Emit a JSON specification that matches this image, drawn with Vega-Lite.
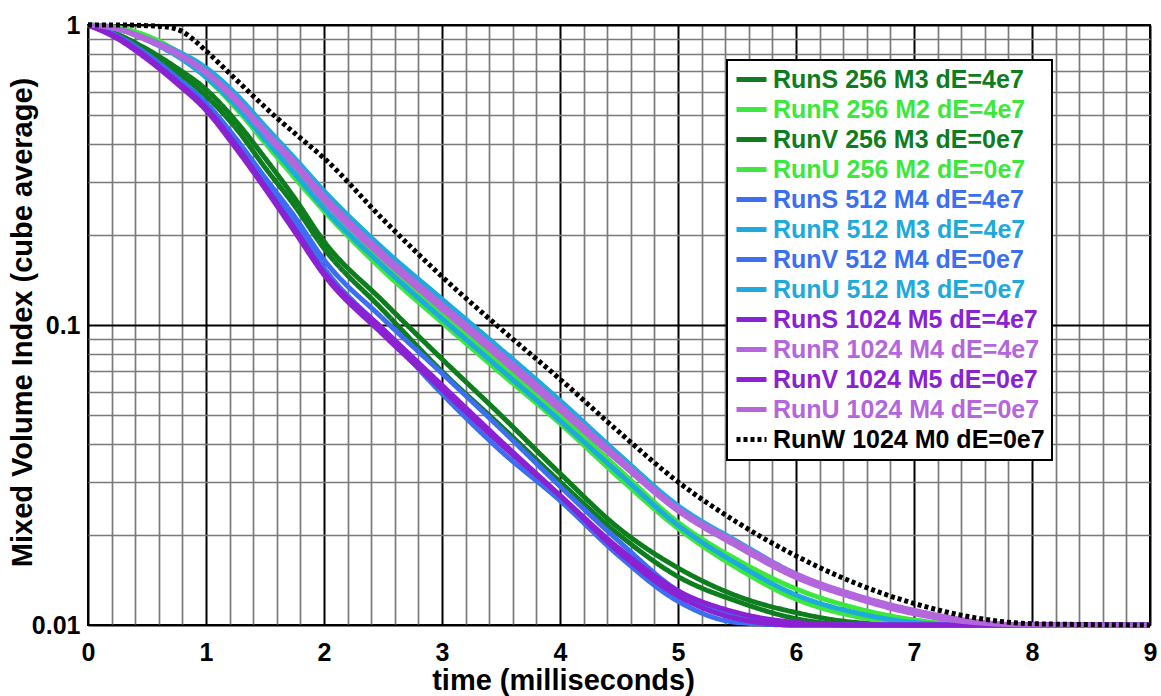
{
  "$schema": "https://vega.github.io/schema/vega-lite/v6.json",
  "width": 1062,
  "height": 600,
  "autosize": "none",
  "padding": {"left": 88, "top": 25, "right": 11, "bottom": 71},
  "config": {
    "font": "Liberation Sans",
    "view": {"stroke": "black", "strokeWidth": 2}
  },
  "datasets": {
    "curves": [
      {"run": "RunS 256 M3 dE=4e7", "t": 0, "v": 1}, {"run": "RunS 256 M3 dE=4e7", "t": 0.25, "v": 0.93}, {"run": "RunS 256 M3 dE=4e7", "t": 0.5, "v": 0.83}, {"run": "RunS 256 M3 dE=4e7", "t": 0.75, "v": 0.72}, {"run": "RunS 256 M3 dE=4e7", "t": 1, "v": 0.61}, {"run": "RunS 256 M3 dE=4e7", "t": 1.25, "v": 0.48}, {"run": "RunS 256 M3 dE=4e7", "t": 1.5, "v": 0.36}, {"run": "RunS 256 M3 dE=4e7", "t": 1.75, "v": 0.265}, {"run": "RunS 256 M3 dE=4e7", "t": 2, "v": 0.19}, {"run": "RunS 256 M3 dE=4e7", "t": 2.5, "v": 0.12}, {"run": "RunS 256 M3 dE=4e7", "t": 3, "v": 0.077}, {"run": "RunS 256 M3 dE=4e7", "t": 3.5, "v": 0.05}, {"run": "RunS 256 M3 dE=4e7", "t": 4, "v": 0.032}, {"run": "RunS 256 M3 dE=4e7", "t": 4.5, "v": 0.021}, {"run": "RunS 256 M3 dE=4e7", "t": 5, "v": 0.0155}, {"run": "RunS 256 M3 dE=4e7", "t": 5.5, "v": 0.0125}, {"run": "RunS 256 M3 dE=4e7", "t": 6, "v": 0.011}, {"run": "RunS 256 M3 dE=4e7", "t": 6.5, "v": 0.0102}, {"run": "RunS 256 M3 dE=4e7", "t": 7, "v": 0.01}, {"run": "RunS 256 M3 dE=4e7", "t": 9, "v": 0.01},
      {"run": "RunR 256 M2 dE=4e7", "t": 0, "v": 1}, {"run": "RunR 256 M2 dE=4e7", "t": 0.25, "v": 0.98}, {"run": "RunR 256 M2 dE=4e7", "t": 0.5, "v": 0.92}, {"run": "RunR 256 M2 dE=4e7", "t": 0.75, "v": 0.82}, {"run": "RunR 256 M2 dE=4e7", "t": 1, "v": 0.7}, {"run": "RunR 256 M2 dE=4e7", "t": 1.25, "v": 0.56}, {"run": "RunR 256 M2 dE=4e7", "t": 1.5, "v": 0.43}, {"run": "RunR 256 M2 dE=4e7", "t": 1.75, "v": 0.33}, {"run": "RunR 256 M2 dE=4e7", "t": 2, "v": 0.255}, {"run": "RunR 256 M2 dE=4e7", "t": 2.5, "v": 0.163}, {"run": "RunR 256 M2 dE=4e7", "t": 3, "v": 0.11}, {"run": "RunR 256 M2 dE=4e7", "t": 3.5, "v": 0.074}, {"run": "RunR 256 M2 dE=4e7", "t": 4, "v": 0.05}, {"run": "RunR 256 M2 dE=4e7", "t": 4.5, "v": 0.033}, {"run": "RunR 256 M2 dE=4e7", "t": 5, "v": 0.022}, {"run": "RunR 256 M2 dE=4e7", "t": 5.5, "v": 0.0165}, {"run": "RunR 256 M2 dE=4e7", "t": 6, "v": 0.0132}, {"run": "RunR 256 M2 dE=4e7", "t": 6.5, "v": 0.0114}, {"run": "RunR 256 M2 dE=4e7", "t": 7, "v": 0.0104}, {"run": "RunR 256 M2 dE=4e7", "t": 7.5, "v": 0.01}, {"run": "RunR 256 M2 dE=4e7", "t": 9, "v": 0.01},
      {"run": "RunV 256 M3 dE=0e7", "t": 0, "v": 1}, {"run": "RunV 256 M3 dE=0e7", "t": 0.25, "v": 0.93}, {"run": "RunV 256 M3 dE=0e7", "t": 0.5, "v": 0.82}, {"run": "RunV 256 M3 dE=0e7", "t": 0.75, "v": 0.7}, {"run": "RunV 256 M3 dE=0e7", "t": 1, "v": 0.58}, {"run": "RunV 256 M3 dE=0e7", "t": 1.25, "v": 0.455}, {"run": "RunV 256 M3 dE=0e7", "t": 1.5, "v": 0.335}, {"run": "RunV 256 M3 dE=0e7", "t": 1.75, "v": 0.25}, {"run": "RunV 256 M3 dE=0e7", "t": 2, "v": 0.18}, {"run": "RunV 256 M3 dE=0e7", "t": 2.5, "v": 0.112}, {"run": "RunV 256 M3 dE=0e7", "t": 3, "v": 0.07}, {"run": "RunV 256 M3 dE=0e7", "t": 3.5, "v": 0.046}, {"run": "RunV 256 M3 dE=0e7", "t": 4, "v": 0.03}, {"run": "RunV 256 M3 dE=0e7", "t": 4.5, "v": 0.02}, {"run": "RunV 256 M3 dE=0e7", "t": 5, "v": 0.0145}, {"run": "RunV 256 M3 dE=0e7", "t": 5.5, "v": 0.012}, {"run": "RunV 256 M3 dE=0e7", "t": 6, "v": 0.0105}, {"run": "RunV 256 M3 dE=0e7", "t": 6.5, "v": 0.01}, {"run": "RunV 256 M3 dE=0e7", "t": 9, "v": 0.01},
      {"run": "RunU 256 M2 dE=0e7", "t": 0, "v": 1}, {"run": "RunU 256 M2 dE=0e7", "t": 0.25, "v": 0.98}, {"run": "RunU 256 M2 dE=0e7", "t": 0.5, "v": 0.91}, {"run": "RunU 256 M2 dE=0e7", "t": 0.75, "v": 0.8}, {"run": "RunU 256 M2 dE=0e7", "t": 1, "v": 0.67}, {"run": "RunU 256 M2 dE=0e7", "t": 1.25, "v": 0.53}, {"run": "RunU 256 M2 dE=0e7", "t": 1.5, "v": 0.405}, {"run": "RunU 256 M2 dE=0e7", "t": 1.75, "v": 0.31}, {"run": "RunU 256 M2 dE=0e7", "t": 2, "v": 0.24}, {"run": "RunU 256 M2 dE=0e7", "t": 2.5, "v": 0.152}, {"run": "RunU 256 M2 dE=0e7", "t": 3, "v": 0.102}, {"run": "RunU 256 M2 dE=0e7", "t": 3.5, "v": 0.069}, {"run": "RunU 256 M2 dE=0e7", "t": 4, "v": 0.047}, {"run": "RunU 256 M2 dE=0e7", "t": 4.5, "v": 0.031}, {"run": "RunU 256 M2 dE=0e7", "t": 5, "v": 0.021}, {"run": "RunU 256 M2 dE=0e7", "t": 5.5, "v": 0.0155}, {"run": "RunU 256 M2 dE=0e7", "t": 6, "v": 0.0122}, {"run": "RunU 256 M2 dE=0e7", "t": 6.5, "v": 0.0107}, {"run": "RunU 256 M2 dE=0e7", "t": 7, "v": 0.0101}, {"run": "RunU 256 M2 dE=0e7", "t": 7.5, "v": 0.01}, {"run": "RunU 256 M2 dE=0e7", "t": 9, "v": 0.01},
      {"run": "RunS 512 M4 dE=4e7", "t": 0, "v": 1}, {"run": "RunS 512 M4 dE=4e7", "t": 0.25, "v": 0.92}, {"run": "RunS 512 M4 dE=4e7", "t": 0.5, "v": 0.8}, {"run": "RunS 512 M4 dE=4e7", "t": 0.75, "v": 0.67}, {"run": "RunS 512 M4 dE=4e7", "t": 1, "v": 0.55}, {"run": "RunS 512 M4 dE=4e7", "t": 1.25, "v": 0.42}, {"run": "RunS 512 M4 dE=4e7", "t": 1.5, "v": 0.31}, {"run": "RunS 512 M4 dE=4e7", "t": 1.75, "v": 0.23}, {"run": "RunS 512 M4 dE=4e7", "t": 2, "v": 0.165}, {"run": "RunS 512 M4 dE=4e7", "t": 2.5, "v": 0.105}, {"run": "RunS 512 M4 dE=4e7", "t": 3, "v": 0.069}, {"run": "RunS 512 M4 dE=4e7", "t": 3.5, "v": 0.045}, {"run": "RunS 512 M4 dE=4e7", "t": 4, "v": 0.029}, {"run": "RunS 512 M4 dE=4e7", "t": 4.5, "v": 0.019}, {"run": "RunS 512 M4 dE=4e7", "t": 5, "v": 0.013}, {"run": "RunS 512 M4 dE=4e7", "t": 5.5, "v": 0.0107}, {"run": "RunS 512 M4 dE=4e7", "t": 6, "v": 0.01}, {"run": "RunS 512 M4 dE=4e7", "t": 9, "v": 0.01},
      {"run": "RunR 512 M3 dE=4e7", "t": 0, "v": 1}, {"run": "RunR 512 M3 dE=4e7", "t": 0.25, "v": 0.97}, {"run": "RunR 512 M3 dE=4e7", "t": 0.5, "v": 0.9}, {"run": "RunR 512 M3 dE=4e7", "t": 0.75, "v": 0.82}, {"run": "RunR 512 M3 dE=4e7", "t": 1, "v": 0.72}, {"run": "RunR 512 M3 dE=4e7", "t": 1.25, "v": 0.59}, {"run": "RunR 512 M3 dE=4e7", "t": 1.5, "v": 0.46}, {"run": "RunR 512 M3 dE=4e7", "t": 1.75, "v": 0.36}, {"run": "RunR 512 M3 dE=4e7", "t": 2, "v": 0.28}, {"run": "RunR 512 M3 dE=4e7", "t": 2.5, "v": 0.18}, {"run": "RunR 512 M3 dE=4e7", "t": 3, "v": 0.122}, {"run": "RunR 512 M3 dE=4e7", "t": 3.5, "v": 0.083}, {"run": "RunR 512 M3 dE=4e7", "t": 4, "v": 0.056}, {"run": "RunR 512 M3 dE=4e7", "t": 4.5, "v": 0.037}, {"run": "RunR 512 M3 dE=4e7", "t": 5, "v": 0.025}, {"run": "RunR 512 M3 dE=4e7", "t": 5.5, "v": 0.019}, {"run": "RunR 512 M3 dE=4e7", "t": 6, "v": 0.0148}, {"run": "RunR 512 M3 dE=4e7", "t": 6.5, "v": 0.0125}, {"run": "RunR 512 M3 dE=4e7", "t": 7, "v": 0.011}, {"run": "RunR 512 M3 dE=4e7", "t": 7.5, "v": 0.0102}, {"run": "RunR 512 M3 dE=4e7", "t": 8, "v": 0.01}, {"run": "RunR 512 M3 dE=4e7", "t": 9, "v": 0.01},
      {"run": "RunV 512 M4 dE=0e7", "t": 0, "v": 1}, {"run": "RunV 512 M4 dE=0e7", "t": 0.25, "v": 0.91}, {"run": "RunV 512 M4 dE=0e7", "t": 0.5, "v": 0.79}, {"run": "RunV 512 M4 dE=0e7", "t": 0.75, "v": 0.66}, {"run": "RunV 512 M4 dE=0e7", "t": 1, "v": 0.54}, {"run": "RunV 512 M4 dE=0e7", "t": 1.25, "v": 0.41}, {"run": "RunV 512 M4 dE=0e7", "t": 1.5, "v": 0.3}, {"run": "RunV 512 M4 dE=0e7", "t": 1.75, "v": 0.22}, {"run": "RunV 512 M4 dE=0e7", "t": 2, "v": 0.155}, {"run": "RunV 512 M4 dE=0e7", "t": 2.5, "v": 0.096}, {"run": "RunV 512 M4 dE=0e7", "t": 3, "v": 0.059}, {"run": "RunV 512 M4 dE=0e7", "t": 3.5, "v": 0.038}, {"run": "RunV 512 M4 dE=0e7", "t": 4, "v": 0.026}, {"run": "RunV 512 M4 dE=0e7", "t": 4.5, "v": 0.017}, {"run": "RunV 512 M4 dE=0e7", "t": 5, "v": 0.012}, {"run": "RunV 512 M4 dE=0e7", "t": 5.5, "v": 0.0102}, {"run": "RunV 512 M4 dE=0e7", "t": 6, "v": 0.01}, {"run": "RunV 512 M4 dE=0e7", "t": 9, "v": 0.01},
      {"run": "RunU 512 M3 dE=0e7", "t": 0, "v": 1}, {"run": "RunU 512 M3 dE=0e7", "t": 0.25, "v": 0.97}, {"run": "RunU 512 M3 dE=0e7", "t": 0.5, "v": 0.89}, {"run": "RunU 512 M3 dE=0e7", "t": 0.75, "v": 0.79}, {"run": "RunU 512 M3 dE=0e7", "t": 1, "v": 0.67}, {"run": "RunU 512 M3 dE=0e7", "t": 1.25, "v": 0.54}, {"run": "RunU 512 M3 dE=0e7", "t": 1.5, "v": 0.415}, {"run": "RunU 512 M3 dE=0e7", "t": 1.75, "v": 0.32}, {"run": "RunU 512 M3 dE=0e7", "t": 2, "v": 0.245}, {"run": "RunU 512 M3 dE=0e7", "t": 2.5, "v": 0.157}, {"run": "RunU 512 M3 dE=0e7", "t": 3, "v": 0.105}, {"run": "RunU 512 M3 dE=0e7", "t": 3.5, "v": 0.071}, {"run": "RunU 512 M3 dE=0e7", "t": 4, "v": 0.048}, {"run": "RunU 512 M3 dE=0e7", "t": 4.5, "v": 0.032}, {"run": "RunU 512 M3 dE=0e7", "t": 5, "v": 0.0215}, {"run": "RunU 512 M3 dE=0e7", "t": 5.5, "v": 0.016}, {"run": "RunU 512 M3 dE=0e7", "t": 6, "v": 0.0126}, {"run": "RunU 512 M3 dE=0e7", "t": 6.5, "v": 0.011}, {"run": "RunU 512 M3 dE=0e7", "t": 7, "v": 0.0102}, {"run": "RunU 512 M3 dE=0e7", "t": 7.5, "v": 0.01}, {"run": "RunU 512 M3 dE=0e7", "t": 9, "v": 0.01},
      {"run": "RunS 1024 M5 dE=4e7", "t": 0, "v": 1}, {"run": "RunS 1024 M5 dE=4e7", "t": 0.25, "v": 0.91}, {"run": "RunS 1024 M5 dE=4e7", "t": 0.5, "v": 0.78}, {"run": "RunS 1024 M5 dE=4e7", "t": 0.75, "v": 0.65}, {"run": "RunS 1024 M5 dE=4e7", "t": 1, "v": 0.53}, {"run": "RunS 1024 M5 dE=4e7", "t": 1.25, "v": 0.4}, {"run": "RunS 1024 M5 dE=4e7", "t": 1.5, "v": 0.29}, {"run": "RunS 1024 M5 dE=4e7", "t": 1.75, "v": 0.21}, {"run": "RunS 1024 M5 dE=4e7", "t": 2, "v": 0.15}, {"run": "RunS 1024 M5 dE=4e7", "t": 2.5, "v": 0.097}, {"run": "RunS 1024 M5 dE=4e7", "t": 3, "v": 0.063}, {"run": "RunS 1024 M5 dE=4e7", "t": 3.5, "v": 0.041}, {"run": "RunS 1024 M5 dE=4e7", "t": 4, "v": 0.027}, {"run": "RunS 1024 M5 dE=4e7", "t": 4.5, "v": 0.0175}, {"run": "RunS 1024 M5 dE=4e7", "t": 5, "v": 0.0125}, {"run": "RunS 1024 M5 dE=4e7", "t": 5.5, "v": 0.0105}, {"run": "RunS 1024 M5 dE=4e7", "t": 6, "v": 0.01}, {"run": "RunS 1024 M5 dE=4e7", "t": 9, "v": 0.01},
      {"run": "RunR 1024 M4 dE=4e7", "t": 0, "v": 1}, {"run": "RunR 1024 M4 dE=4e7", "t": 0.25, "v": 0.97}, {"run": "RunR 1024 M4 dE=4e7", "t": 0.5, "v": 0.9}, {"run": "RunR 1024 M4 dE=4e7", "t": 0.75, "v": 0.81}, {"run": "RunR 1024 M4 dE=4e7", "t": 1, "v": 0.7}, {"run": "RunR 1024 M4 dE=4e7", "t": 1.25, "v": 0.57}, {"run": "RunR 1024 M4 dE=4e7", "t": 1.5, "v": 0.445}, {"run": "RunR 1024 M4 dE=4e7", "t": 1.75, "v": 0.35}, {"run": "RunR 1024 M4 dE=4e7", "t": 2, "v": 0.27}, {"run": "RunR 1024 M4 dE=4e7", "t": 2.5, "v": 0.173}, {"run": "RunR 1024 M4 dE=4e7", "t": 3, "v": 0.117}, {"run": "RunR 1024 M4 dE=4e7", "t": 3.5, "v": 0.08}, {"run": "RunR 1024 M4 dE=4e7", "t": 4, "v": 0.054}, {"run": "RunR 1024 M4 dE=4e7", "t": 4.5, "v": 0.036}, {"run": "RunR 1024 M4 dE=4e7", "t": 5, "v": 0.0245}, {"run": "RunR 1024 M4 dE=4e7", "t": 5.5, "v": 0.0188}, {"run": "RunR 1024 M4 dE=4e7", "t": 6, "v": 0.0148}, {"run": "RunR 1024 M4 dE=4e7", "t": 6.5, "v": 0.0126}, {"run": "RunR 1024 M4 dE=4e7", "t": 7, "v": 0.0112}, {"run": "RunR 1024 M4 dE=4e7", "t": 7.5, "v": 0.0103}, {"run": "RunR 1024 M4 dE=4e7", "t": 8, "v": 0.01}, {"run": "RunR 1024 M4 dE=4e7", "t": 9, "v": 0.01},
      {"run": "RunV 1024 M5 dE=0e7", "t": 0, "v": 1}, {"run": "RunV 1024 M5 dE=0e7", "t": 0.25, "v": 0.9}, {"run": "RunV 1024 M5 dE=0e7", "t": 0.5, "v": 0.77}, {"run": "RunV 1024 M5 dE=0e7", "t": 0.75, "v": 0.64}, {"run": "RunV 1024 M5 dE=0e7", "t": 1, "v": 0.52}, {"run": "RunV 1024 M5 dE=0e7", "t": 1.25, "v": 0.39}, {"run": "RunV 1024 M5 dE=0e7", "t": 1.5, "v": 0.285}, {"run": "RunV 1024 M5 dE=0e7", "t": 1.75, "v": 0.205}, {"run": "RunV 1024 M5 dE=0e7", "t": 2, "v": 0.147}, {"run": "RunV 1024 M5 dE=0e7", "t": 2.5, "v": 0.093}, {"run": "RunV 1024 M5 dE=0e7", "t": 3, "v": 0.061}, {"run": "RunV 1024 M5 dE=0e7", "t": 3.5, "v": 0.04}, {"run": "RunV 1024 M5 dE=0e7", "t": 4, "v": 0.027}, {"run": "RunV 1024 M5 dE=0e7", "t": 4.5, "v": 0.018}, {"run": "RunV 1024 M5 dE=0e7", "t": 5, "v": 0.013}, {"run": "RunV 1024 M5 dE=0e7", "t": 5.5, "v": 0.011}, {"run": "RunV 1024 M5 dE=0e7", "t": 6, "v": 0.0102}, {"run": "RunV 1024 M5 dE=0e7", "t": 6.5, "v": 0.01}, {"run": "RunV 1024 M5 dE=0e7", "t": 9, "v": 0.01},
      {"run": "RunU 1024 M4 dE=0e7", "t": 0, "v": 1}, {"run": "RunU 1024 M4 dE=0e7", "t": 0.25, "v": 0.97}, {"run": "RunU 1024 M4 dE=0e7", "t": 0.5, "v": 0.89}, {"run": "RunU 1024 M4 dE=0e7", "t": 0.75, "v": 0.8}, {"run": "RunU 1024 M4 dE=0e7", "t": 1, "v": 0.69}, {"run": "RunU 1024 M4 dE=0e7", "t": 1.25, "v": 0.56}, {"run": "RunU 1024 M4 dE=0e7", "t": 1.5, "v": 0.435}, {"run": "RunU 1024 M4 dE=0e7", "t": 1.75, "v": 0.34}, {"run": "RunU 1024 M4 dE=0e7", "t": 2, "v": 0.26}, {"run": "RunU 1024 M4 dE=0e7", "t": 2.5, "v": 0.167}, {"run": "RunU 1024 M4 dE=0e7", "t": 3, "v": 0.113}, {"run": "RunU 1024 M4 dE=0e7", "t": 3.5, "v": 0.077}, {"run": "RunU 1024 M4 dE=0e7", "t": 4, "v": 0.052}, {"run": "RunU 1024 M4 dE=0e7", "t": 4.5, "v": 0.035}, {"run": "RunU 1024 M4 dE=0e7", "t": 5, "v": 0.024}, {"run": "RunU 1024 M4 dE=0e7", "t": 5.5, "v": 0.0183}, {"run": "RunU 1024 M4 dE=0e7", "t": 6, "v": 0.0144}, {"run": "RunU 1024 M4 dE=0e7", "t": 6.5, "v": 0.0123}, {"run": "RunU 1024 M4 dE=0e7", "t": 7, "v": 0.0109}, {"run": "RunU 1024 M4 dE=0e7", "t": 7.5, "v": 0.0102}, {"run": "RunU 1024 M4 dE=0e7", "t": 8, "v": 0.01}, {"run": "RunU 1024 M4 dE=0e7", "t": 9, "v": 0.01},
      {"run": "RunW 1024 M0 dE=0e7", "t": 0, "v": 1}, {"run": "RunW 1024 M0 dE=0e7", "t": 0.25, "v": 1}, {"run": "RunW 1024 M0 dE=0e7", "t": 0.5, "v": 0.995}, {"run": "RunW 1024 M0 dE=0e7", "t": 0.7, "v": 0.98}, {"run": "RunW 1024 M0 dE=0e7", "t": 0.8, "v": 0.95}, {"run": "RunW 1024 M0 dE=0e7", "t": 0.9, "v": 0.89}, {"run": "RunW 1024 M0 dE=0e7", "t": 1, "v": 0.82}, {"run": "RunW 1024 M0 dE=0e7", "t": 1.2, "v": 0.69}, {"run": "RunW 1024 M0 dE=0e7", "t": 1.4, "v": 0.58}, {"run": "RunW 1024 M0 dE=0e7", "t": 1.6, "v": 0.49}, {"run": "RunW 1024 M0 dE=0e7", "t": 1.8, "v": 0.42}, {"run": "RunW 1024 M0 dE=0e7", "t": 2, "v": 0.36}, {"run": "RunW 1024 M0 dE=0e7", "t": 2.5, "v": 0.225}, {"run": "RunW 1024 M0 dE=0e7", "t": 3, "v": 0.145}, {"run": "RunW 1024 M0 dE=0e7", "t": 3.5, "v": 0.097}, {"run": "RunW 1024 M0 dE=0e7", "t": 4, "v": 0.066}, {"run": "RunW 1024 M0 dE=0e7", "t": 4.5, "v": 0.044}, {"run": "RunW 1024 M0 dE=0e7", "t": 5, "v": 0.03}, {"run": "RunW 1024 M0 dE=0e7", "t": 5.5, "v": 0.022}, {"run": "RunW 1024 M0 dE=0e7", "t": 6, "v": 0.017}, {"run": "RunW 1024 M0 dE=0e7", "t": 6.5, "v": 0.0138}, {"run": "RunW 1024 M0 dE=0e7", "t": 7, "v": 0.0118}, {"run": "RunW 1024 M0 dE=0e7", "t": 7.5, "v": 0.0106}, {"run": "RunW 1024 M0 dE=0e7", "t": 8, "v": 0.0101}, {"run": "RunW 1024 M0 dE=0e7", "t": 9, "v": 0.01}
    ]
  },
  "data": {"name": "curves"},
  "mark": {"type": "line", "interpolate": "monotone", "clip": false},
  "encoding": {
    "x": {
      "field": "t", "type": "quantitative",
      "scale": {"domain": [0, 9], "nice": false, "zero": false},
      "axis": {
        "title": "time  (milliseconds)",
        "values": [0,0.2,0.4,0.6,0.8,1,1.2,1.4,1.6,1.8,2,2.2,2.4,2.6,2.8,3,3.2,3.4,3.6,3.8,4,4.2,4.4,4.6,4.8,5,5.2,5.4,5.6,5.8,6,6.2,6.4,6.6,6.8,7,7.2,7.4,7.6,7.8,8,8.2,8.4,8.6,8.8,9],
        "labelExpr": "abs(datum.value - round(datum.value)) < 1e-6 ? format(datum.value, 'd') : ''",
        "grid": true,
        "gridColor": {"condition": {"test": "abs(datum.value - round(datum.value)) < 1e-6", "value": "#000000"}, "value": "#7a7a7a"},
        "gridWidth": {"condition": {"test": "abs(datum.value - round(datum.value)) < 1e-6", "value": 2}, "value": 1.7},
        "gridOpacity": 1,
        "ticks": false,
        "domain": false,
        "labelFontSize": 25, "labelFontWeight": "bold", "labelColor": "black",
        "labelPadding": 15, "labelFlush": false, "labelOverlap": false, "labelBound": false,
        "titleFontSize": 29, "titleFontWeight": "bold", "titleColor": "black",
        "titleX": 475, "titleY": 64, "titleAnchor": "middle", "titleAlign": "center", "titleBaseline": "alphabetic"
      }
    },
    "y": {
      "field": "v", "type": "quantitative",
      "scale": {"type": "log", "domain": [0.01, 1], "nice": false},
      "axis": {
        "title": "Mixed Volume Index  (cube average)",
        "values": [0.01,0.02,0.03,0.04,0.05,0.06,0.07,0.08,0.09,0.1,0.2,0.3,0.4,0.5,0.6,0.7,0.8,0.9,1],
        "labelExpr": "abs(log(datum.value)/LN10 - round(log(datum.value)/LN10)) < 1e-6 ? format(datum.value, '~g') : ''",
        "grid": true,
        "gridColor": {"condition": {"test": "abs(log(datum.value)/LN10 - round(log(datum.value)/LN10)) < 1e-6", "value": "#000000"}, "value": "#7a7a7a"},
        "gridWidth": {"condition": {"test": "abs(log(datum.value)/LN10 - round(log(datum.value)/LN10)) < 1e-6", "value": 2}, "value": 1.7},
        "gridOpacity": 1,
        "ticks": false,
        "domain": false,
        "labelFontSize": 25, "labelFontWeight": "bold", "labelColor": "black",
        "labelPadding": 8, "labelFlush": false, "labelOverlap": false, "labelBound": false,
        "titleFontSize": 29, "titleFontWeight": "bold", "titleColor": "black",
        "titleAngle": 270, "titleX": -57, "titleY": 297, "titleAlign": "center", "titleBaseline": "alphabetic"
      }
    },
    "color": {
      "field": "run", "type": "nominal",
      "scale": {
        "domain": ["RunS 256 M3 dE=4e7","RunR 256 M2 dE=4e7","RunV 256 M3 dE=0e7","RunU 256 M2 dE=0e7","RunS 512 M4 dE=4e7","RunR 512 M3 dE=4e7","RunV 512 M4 dE=0e7","RunU 512 M3 dE=0e7","RunS 1024 M5 dE=4e7","RunR 1024 M4 dE=4e7","RunV 1024 M5 dE=0e7","RunU 1024 M4 dE=0e7","RunW 1024 M0 dE=0e7"],
        "range": ["#0e7d1e","#3de83d","#0e7d1e","#3de83d","#3b6ef0","#1eaadc","#3b6ef0","#1eaadc","#8a22d4","#b466dd","#8a22d4","#b466dd","#000000"]
      },
      "legend": {
        "title": null,
        "orient": "none", "legendX": 639, "legendY": 35,
        "symbolType": "stroke", "symbolSize": 900, "clipHeight": 25,
        "labelFontSize": 25, "labelFontWeight": "bold", "labelLimit": 400, "labelOffset": 4,
        "rowPadding": 4, "padding": 7,
        "strokeColor": "black", "fillColor": "white",
        "encode": {
          "legend": {"update": {"strokeWidth": {"value": 2}}},
          "labels": {"update": {"fill": {"scale": "color", "field": "value"}}}
        }
      }
    },
    "strokeWidth": {
      "field": "run", "type": "nominal",
      "scale": {
        "domain": ["RunS 256 M3 dE=4e7","RunR 256 M2 dE=4e7","RunV 256 M3 dE=0e7","RunU 256 M2 dE=0e7","RunS 512 M4 dE=4e7","RunR 512 M3 dE=4e7","RunV 512 M4 dE=0e7","RunU 512 M3 dE=0e7","RunS 1024 M5 dE=4e7","RunR 1024 M4 dE=4e7","RunV 1024 M5 dE=0e7","RunU 1024 M4 dE=0e7","RunW 1024 M0 dE=0e7"],
        "range": [5,5,5,5,3.5,5.5,3.5,5.5,3,6,3,6,2.5]
      }
    },
    "strokeDash": {
      "field": "run", "type": "nominal",
      "scale": {
        "domain": ["RunS 256 M3 dE=4e7","RunR 256 M2 dE=4e7","RunV 256 M3 dE=0e7","RunU 256 M2 dE=0e7","RunS 512 M4 dE=4e7","RunR 512 M3 dE=4e7","RunV 512 M4 dE=0e7","RunU 512 M3 dE=0e7","RunS 1024 M5 dE=4e7","RunR 1024 M4 dE=4e7","RunV 1024 M5 dE=0e7","RunU 1024 M4 dE=0e7","RunW 1024 M0 dE=0e7"],
        "range": [[1,0],[1,0],[1,0],[1,0],[1,0],[1,0],[1,0],[1,0],[1,0],[1,0],[1,0],[1,0],[4,3]]
      }
    }
  }
}
